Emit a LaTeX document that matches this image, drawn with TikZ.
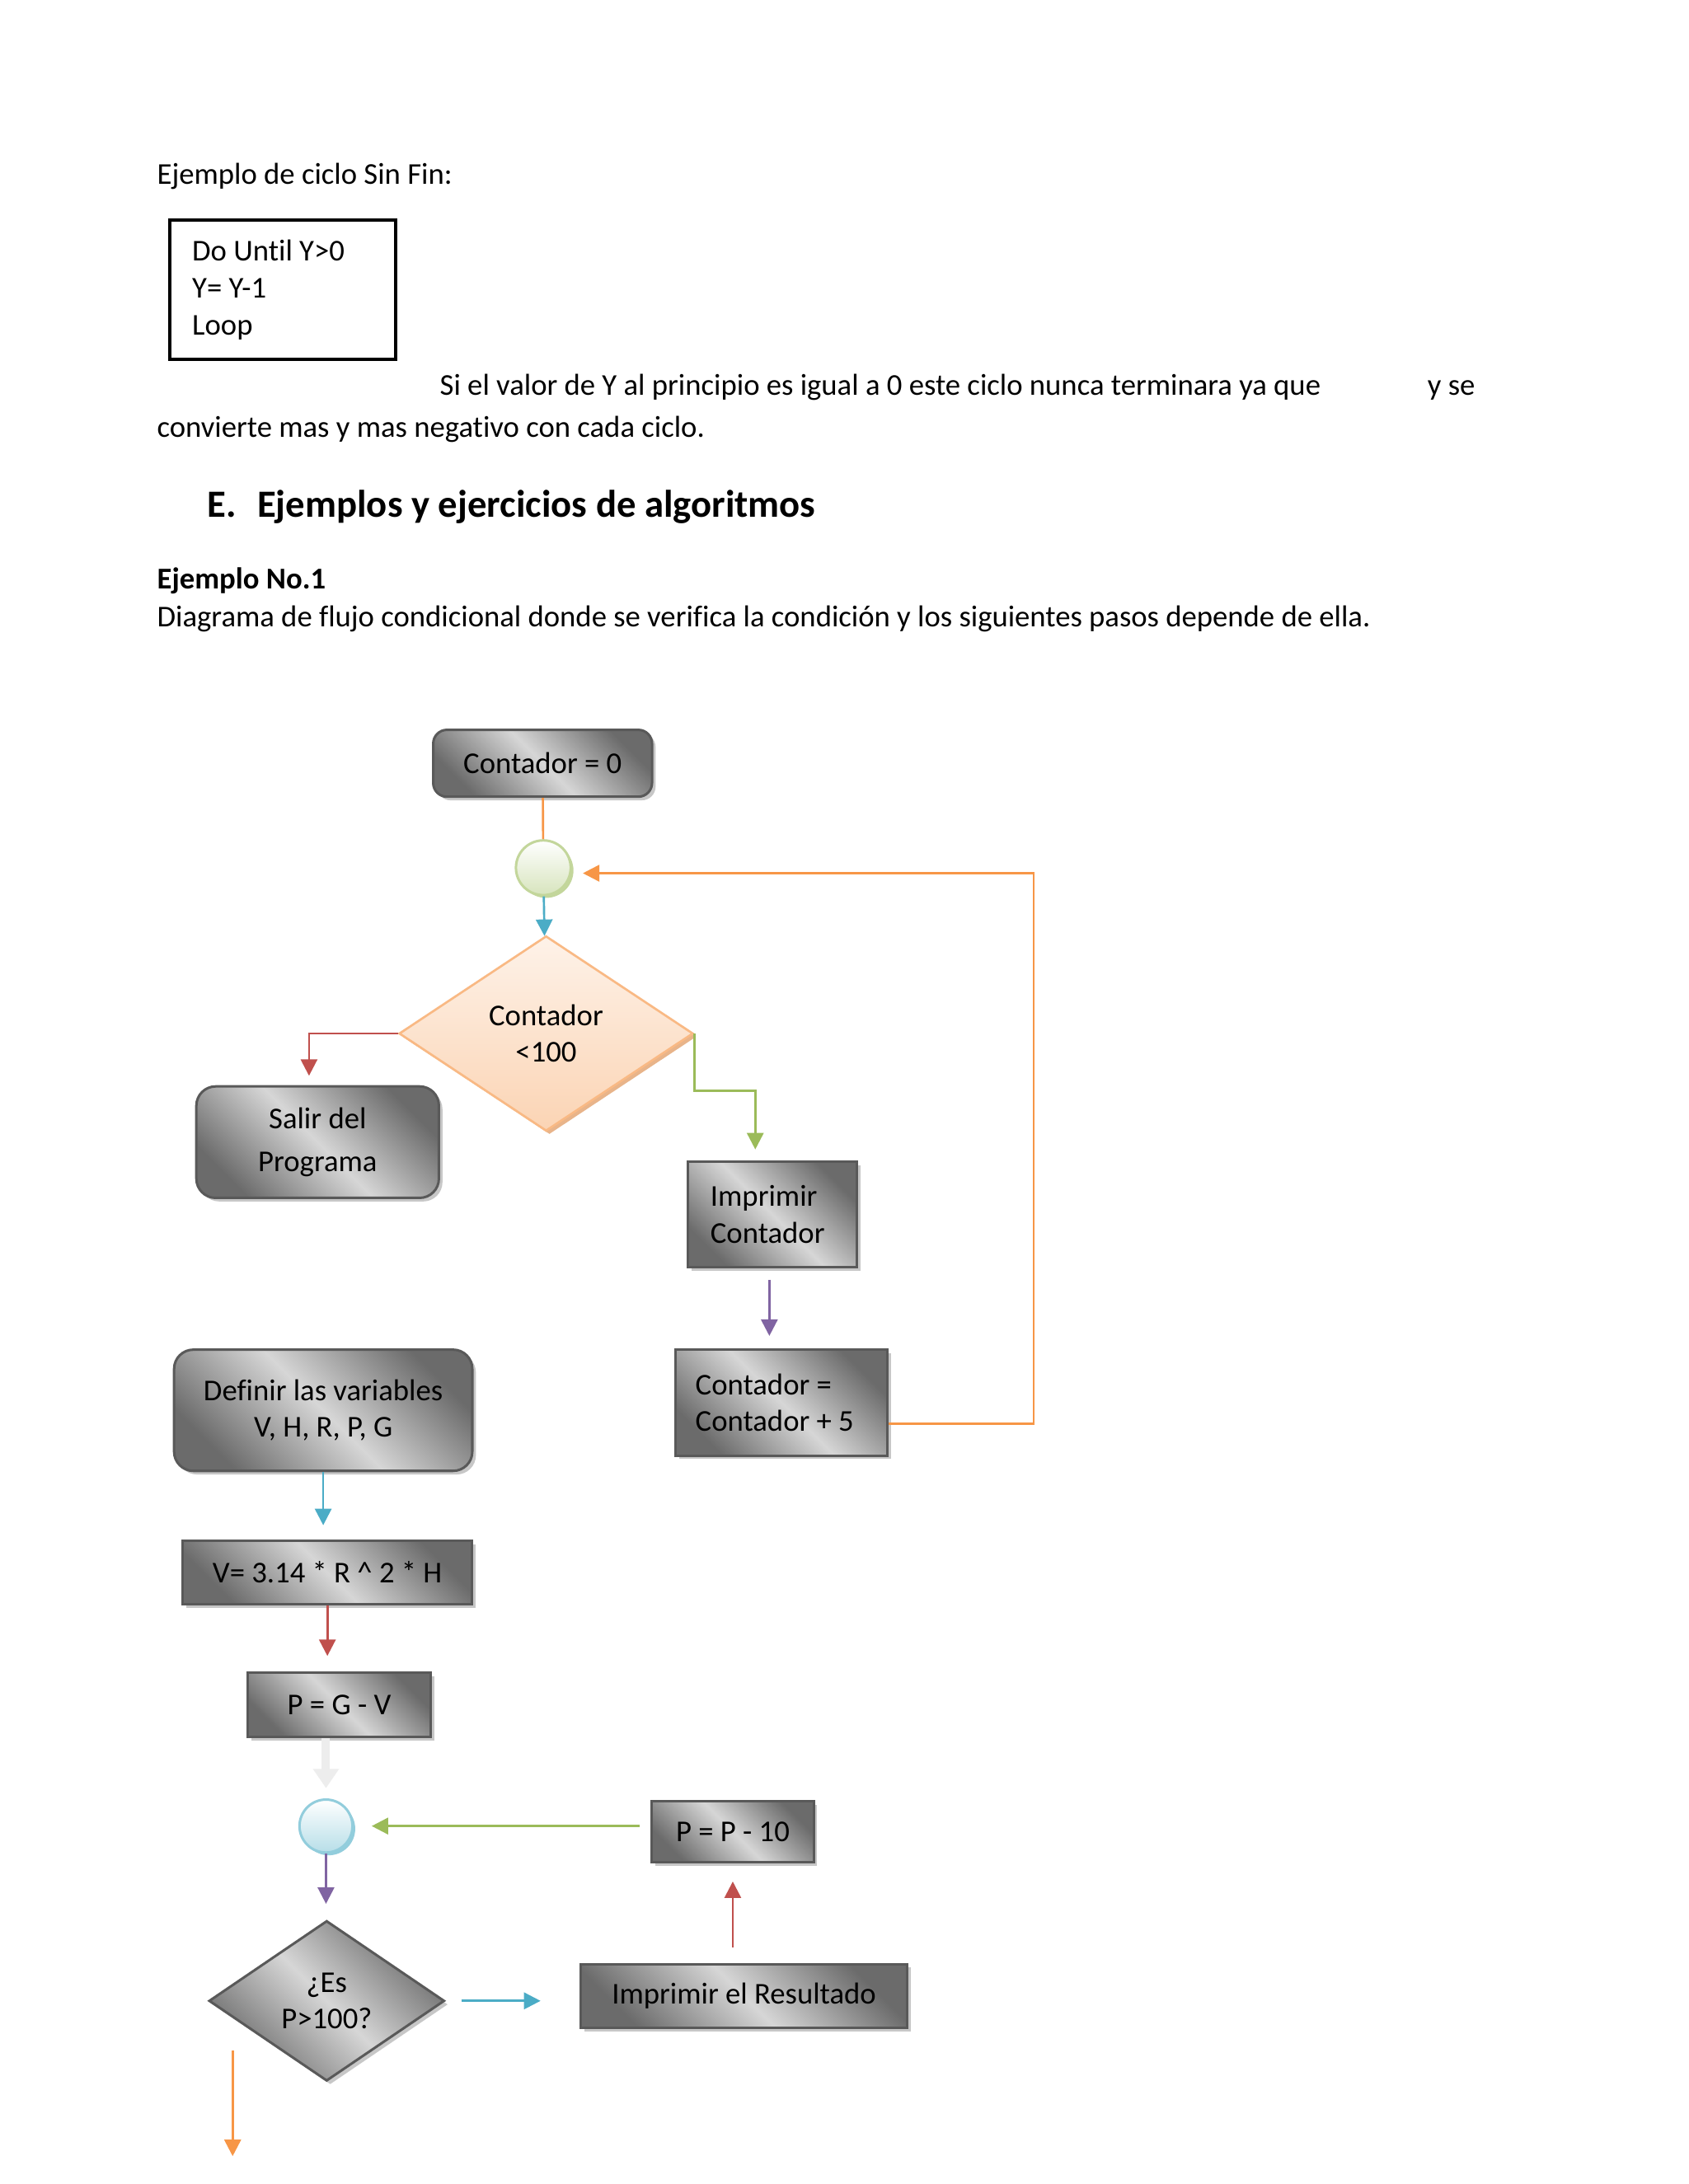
\documentclass[tikz,border=0pt]{standalone}
\usepackage{fontspec}
\setmainfont{Carlito}[Ligatures=NoCommon]
\usetikzlibrary{shapes.geometric,shadows,arrows.meta}
\definecolor{naranja}{HTML}{F79646}
\definecolor{azul}{HTML}{4BACC6}
\definecolor{rojo}{HTML}{C0504D}
\definecolor{verde}{HTML}{9BBB59}
\definecolor{morado}{HTML}{8064A2}
\definecolor{durazno}{HTML}{FBD4B4}
\definecolor{bordeD}{HTML}{F9B984}
\definecolor{sombraD}{HTML}{E8B48A}
\definecolor{verdeC}{HTML}{D7E4BD}
\definecolor{bordeV}{HTML}{C3D69B}
\definecolor{celeste}{HTML}{B7DEE8}
\definecolor{bordeA}{HTML}{92CDDC}
\begin{document}
\begin{tikzpicture}[x=0.017814cm,y=-0.017814cm,>={Triangle[length=6pt,width=6pt]},line width=0.8pt]
	\tikzset{every node/.style={font=\fontsize{11}{13.4}\selectfont},
		texto/.style={anchor=base west,inner sep=0pt},
		negrita/.style={texto,font=\fontsize{11}{13.4}\selectfont\bfseries},
		gris/.style={draw=black!65,line width=0.9pt,top color=black!58,bottom color=black!58,middle color=black!16,shading angle=-45,
			drop shadow={shadow xshift=1.3pt,shadow yshift=-1.3pt,fill=black!22,opacity=1}},
		caja/.style={gris,rectangle,inner sep=0pt,align=flush center},
		cajar/.style={caja,rounded corners=5pt},
		cajai/.style={caja,align=flush left},
		rombo/.style={diamond,inner sep=0pt,align=flush center},
		bola/.style={circle,inner sep=0pt,top color=white,line width=0.9pt}}
	\fill[white] (0,0) rectangle (1212,1568);
	
	% texto de la pagina
	\node[texto] (t1) at (112,132) {Ejemplo de ciclo Sin Fin:};
	\node[draw,line width=1pt,align=flush left,text width=2.316cm,inner xsep=0.285cm,minimum height=1.781cm] (codigo) at (203,208) {Do Until Y>0\\Y= Y-1\\Loop};
	\node[texto] (t2) at (315,284) {Si el valor de Y al principio es igual a 0 este ciclo nunca terminara ya que};
	\node[texto] (t3) at (1024,284) {y se};
	\node[texto] (t4) at (112,314) {convierte mas y mas negativo con cada ciclo.};
	\node[texto,font=\fontsize{14}{17}\selectfont\bfseries] (t5) at (148,371) {\makebox[18.2pt][l]{E.}Ejemplos y ejercicios de algoritmos};
	\node[negrita] (t6) at (112,423) {Ejemplo No.1};
	\node[texto] (t7) at (112,450) {Diagrama de flujo condicional donde se verifica la condición y los siguientes pasos depende de ella.};
	
	% primer diagrama
	\node[cajar,minimum width=2.797cm,minimum height=0.855cm] (c0) at (389.5,548) {Contador = 0};
	\node[bola,minimum size=0.7cm,draw=bordeV,bottom color=verdeC,drop shadow={shadow xshift=1pt,shadow yshift=-1pt,fill=bordeV,opacity=1}] (circ1) at (390,623) {};
	\node[rombo,minimum width=3.759cm,minimum height=2.494cm,draw=bordeD,top color=durazno!30,bottom color=durazno,
		drop shadow={shadow xshift=1.2pt,shadow yshift=-1.2pt,fill=sombraD,opacity=1}] (cond1) at (392,742) {Contador\\<100};
	\node[cajar,rounded corners=7pt,minimum width=3.1cm,minimum height=1.425cm] (salir) at (228,820) {Salir del\\[2pt]Programa};
	\node[cajai,text width=1.585cm,inner xsep=0.285cm,minimum height=1.354cm] (impC) at (554.5,872) {Imprimir\\Contador};
	\node[cajai,text width=2.2cm,inner xsep=0.254cm,minimum height=1.354cm] (contC) at (561,1007) {Contador =\\Contador + 5};
	
	\draw[naranja] (c0) -- (circ1);
	\draw[azul,->] (circ1) -- (cond1);
	\draw[rojo,->,shorten >=0.12cm] (cond1.west) -| ([xshift=-0.11cm]salir.north);
	\draw[verde,->,shorten >=0.14cm] (cond1.east) -- ++(0,41) -| ([xshift=-0.22cm]impC.north);
	\draw[morado,->,shorten <=0.14cm,shorten >=0.16cm] ([xshift=-0.04cm]impC.south) -- ([xshift=-0.04cm]impC.south |- contC.north);
	\draw[naranja,->,shorten >=0.14cm] ([yshift=-0.27cm]contC.east) -- ++(104,0) |- ([yshift=-0.07cm]circ1.east);
	
	% segundo diagrama
	\node[cajar,rounded corners=7pt,minimum width=3.812cm,minimum height=1.55cm] (defin) at (232,1012.5) {Definir las variables\\V, H, R, P, G};
	\node[caja,minimum width=3.705cm,minimum height=0.819cm] (vform) at (235,1129) {V= 3.14 * R \^{} 2 * H};
	\node[caja,minimum width=2.334cm,minimum height=0.819cm] (pgv) at (243.5,1224) {P = G - V};
	\node[bola,minimum size=0.677cm,draw=bordeA,bottom color=celeste,drop shadow={shadow xshift=1pt,shadow yshift=-1pt,fill=bordeA,opacity=1}] (circ2) at (234,1311) {};
	\node[caja,minimum width=2.066cm,minimum height=0.784cm] (p10) at (526,1315) {P = P - 10};
	\node[rombo,gris,minimum width=3.011cm,minimum height=2.049cm] (cond2) at (234.5,1436.5) {¿Es\\P>100?};
	\node[caja,minimum width=4.168cm,minimum height=0.819cm] (res) at (534,1433) {Imprimir el Resultado};
	\coordinate (noA) at (167,1472);
	\coordinate (noB) at (167,1548);
	
	\draw[azul,->,shorten >=0.18cm] (defin) -- (defin |- vform.north);
	\draw[rojo,->,shorten >=0.2cm] (vform) -- (vform |- pgv.north);
	\draw[black!7,line width=3pt,-{Triangle[length=7pt,width=9pt]},shorten >=0.13cm] (circ2 |- pgv.south) -- (circ2);
	\draw[morado,->,shorten >=0.2cm] (circ2) -- (circ2 |- cond2.north);
	\draw[azul,->,shorten <=0.2cm,shorten >=0.5cm] (cond2.east) -- (cond2.east -| res.west);
	\draw[rojo,->,shorten <=0.2cm,shorten >=0.23cm] (p10 |- res.north) -- (p10);
	\draw[verde,->,shorten <=0.14cm,shorten >=0.23cm] (p10.west |- circ2) -- (circ2);
	\draw[naranja,->] (noA) -- (noB);
\end{tikzpicture}
\end{document}
